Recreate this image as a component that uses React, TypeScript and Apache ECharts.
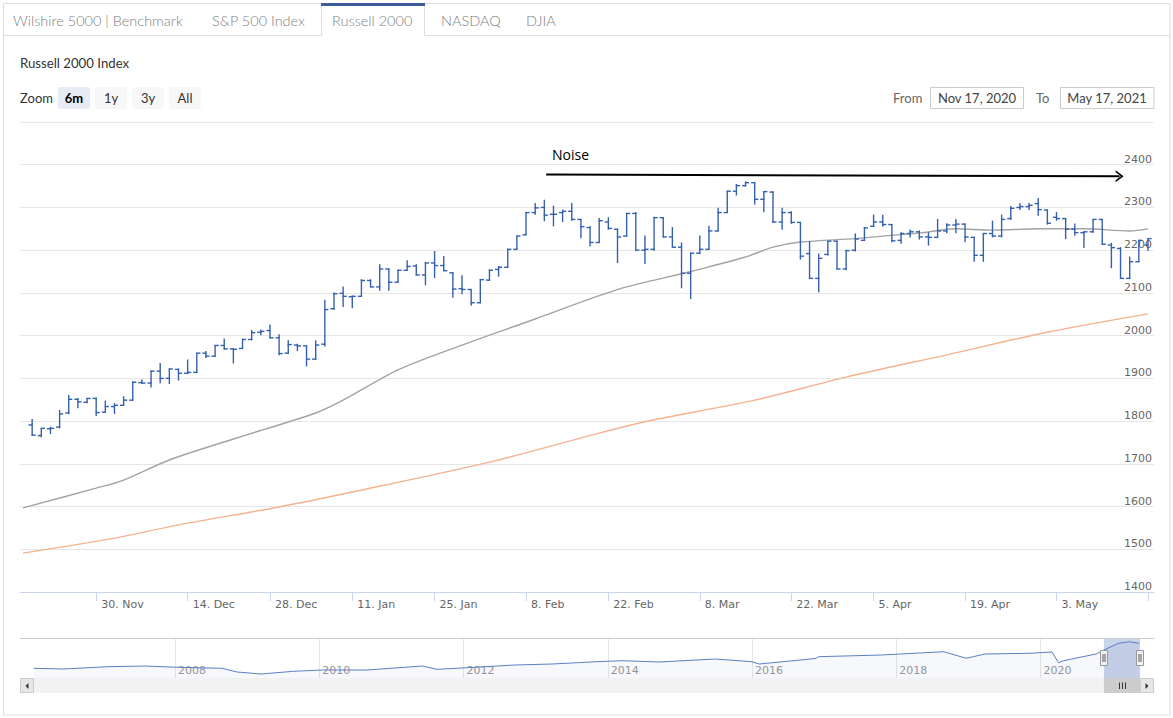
import React, { useEffect, useRef } from "react";
import * as echarts from "echarts";

// ---------- data ----------
const dates: string[] = [
  "2020-11-17","2020-11-18","2020-11-19","2020-11-20","2020-11-23","2020-11-24","2020-11-25","2020-11-27","2020-11-30",
  "2020-12-01","2020-12-02","2020-12-03","2020-12-04","2020-12-07","2020-12-08","2020-12-09","2020-12-10","2020-12-11",
  "2020-12-14","2020-12-15","2020-12-16","2020-12-17","2020-12-18","2020-12-21","2020-12-22","2020-12-23","2020-12-24",
  "2020-12-28","2020-12-29","2020-12-30","2020-12-31",
  "2021-01-04","2021-01-05","2021-01-06","2021-01-07","2021-01-08","2021-01-11","2021-01-12","2021-01-13","2021-01-14",
  "2021-01-15","2021-01-19","2021-01-20","2021-01-21","2021-01-22","2021-01-25","2021-01-26","2021-01-27","2021-01-28","2021-01-29",
  "2021-02-01","2021-02-02","2021-02-03","2021-02-04","2021-02-05","2021-02-08","2021-02-09","2021-02-10","2021-02-11",
  "2021-02-12","2021-02-16","2021-02-17","2021-02-18","2021-02-19","2021-02-22","2021-02-23","2021-02-24","2021-02-25","2021-02-26",
  "2021-03-01","2021-03-02","2021-03-03","2021-03-04","2021-03-05","2021-03-08","2021-03-09","2021-03-10","2021-03-11","2021-03-12",
  "2021-03-15","2021-03-16","2021-03-17","2021-03-18","2021-03-19","2021-03-22","2021-03-23","2021-03-24","2021-03-25","2021-03-26",
  "2021-03-29","2021-03-30","2021-03-31",
  "2021-04-01","2021-04-05","2021-04-06","2021-04-07","2021-04-08","2021-04-09","2021-04-12","2021-04-13","2021-04-14","2021-04-15",
  "2021-04-16","2021-04-19","2021-04-20","2021-04-21","2021-04-22","2021-04-23","2021-04-26","2021-04-27","2021-04-28","2021-04-29","2021-04-30",
  "2021-05-03","2021-05-04","2021-05-05","2021-05-06","2021-05-07","2021-05-10","2021-05-11","2021-05-12","2021-05-13","2021-05-14","2021-05-17",
];

const opens: (number | null)[] = [null,
  1791,1766,1782,1786,1819,1851,1844,1853,1821,1834,1837,1849,1890,1889,1917,1900,1921,1912,1914,1959,
  1952,1977,1969,1970,1991,2008,2012,1995,1959,1978,1976,1945,1980,2063,2099,2091,2092,2129,2114,2156,
  2125,2153,2163,2142,2170,2164,2147,2110,2108,2077,2130,2155,2160,2202,2236,2288,2300,2284,2288,2291,
  2272,2253,2218,2266,2249,2233,2286,2200,2202,2276,2231,2207,2146,2193,2202,2245,2288,2338,2351,2358,
  2319,2336,2266,2288,2265,2192,2134,2190,2221,2156,2200,2223,2256,2266,2260,2223,2239,2243,2231,2230,
  2245,2259,2261,2230,2188,2239,2233,2274,2300,2302,2309,2294,2277,2274,2249,2241,2243,2272,2212,2204,
  2134,2173,2212];
const highs: (number | null)[] = [null,
  1804,1783,1786,1825,1860,1853,1853,1854,1847,1841,1857,1892,1896,1917,1935,1922,1922,1943,1959,1963,
  1977,1992,1970,1992,2012,2013,2025,2002,1988,1980,1976,1988,2083,2100,2114,2093,2131,2131,2166,2156,
  2153,2175,2166,2171,2197,2185,2147,2140,2108,2131,2154,2162,2202,2233,2288,2309,2317,2303,2294,2309,
  2272,2255,2274,2276,2249,2286,2288,2233,2277,2276,2253,2217,2193,2233,2256,2298,2338,2354,2360,2358,
  2337,2337,2298,2290,2265,2220,2191,2221,2221,2200,2238,2253,2282,2282,2260,2241,2247,2245,2241,2272,
  2262,2272,2261,2230,2239,2268,2282,2302,2309,2309,2321,2294,2288,2274,2261,2243,2272,2272,2216,2206,
  2184,2223,2227];
const lows: (number | null)[] = [null,
  1767,1763,1771,1784,1817,1831,1843,1813,1820,1818,1837,1849,1888,1880,1890,1888,1896,1911,1914,1949,
  1951,1969,1936,1970,1990,2002,1995,1955,1958,1965,1929,1945,1976,2062,2068,2065,2092,2114,2106,2106,
  2125,2153,2142,2119,2136,2152,2090,2098,2071,2077,2129,2139,2160,2202,2236,2284,2269,2257,2267,2270,
  2229,2210,2218,2249,2171,2233,2200,2169,2200,2231,2207,2112,2087,2193,2202,2245,2288,2329,2350,2308,
  2290,2265,2249,2263,2179,2134,2103,2189,2156,2154,2198,2223,2256,2256,2220,2216,2231,2226,2212,2230,
  2241,2241,2220,2174,2174,2231,2231,2272,2295,2295,2282,2261,2270,2227,2235,2206,2242,2214,2159,2134,
  2134,2173,2200];
const closes: (number | null)[] = [null,
  1767,1783,1783,1817,1851,1845,1853,1820,1834,1837,1849,1891,1889,1917,1900,1922,1912,1914,1959,1952,
  1977,1969,1968,1991,2007,2010,1995,1958,1979,1976,1945,1978,2061,2098,2092,2092,2129,2114,2156,2125,
  2153,2162,2142,2170,2164,2152,2109,2108,2077,2131,2153,2160,2202,2233,2288,2299,2282,2284,2291,2272,
  2255,2218,2269,2251,2231,2286,2200,2202,2276,2231,2207,2146,2193,2202,2245,2288,2338,2351,2358,2319,
  2337,2266,2288,2265,2186,2134,2181,2221,2156,2199,2226,2252,2266,2260,2222,2239,2243,2231,2230,2245,
  2259,2261,2231,2188,2239,2233,2272,2298,2302,2305,2295,2263,2274,2249,2241,2243,2272,2214,2206,2134,
  2173,2223,2227];

const sma50Dates = ["2020-11-17","2020-11-30","2020-12-03","2020-12-10","2020-12-21","2021-01-05","2021-01-08","2021-01-19","2021-01-28",
  "2021-02-09","2021-02-18","2021-02-24","2021-03-05","2021-03-09","2021-03-15","2021-03-18","2021-03-23","2021-03-31","2021-04-06",
  "2021-04-12","2021-04-16","2021-04-22","2021-04-29","2021-05-06","2021-05-13","2021-05-17"];
const sma50Values = [1597,1643,1662,1709,1758,1819,1849,1920,1978,
  2039,2086,2114,2150,2161,2184,2207,2219,2227,2233,
  2240,2250,2247,2250,2250,2245,2250];

const sma200Dates = ["2020-11-17","2020-12-02","2020-12-11","2020-12-29","2021-01-11","2021-02-02","2021-02-19","2021-03-01",
  "2021-03-16","2021-03-30","2021-04-15","2021-04-30","2021-05-17"];
const sma200Values = [1491,1526,1557,1599,1634,1704,1772,1803,1849,1903,1955,2008,2051];

const tickDates = ["2020-11-30","2020-12-14","2020-12-28","2021-01-11","2021-01-25","2021-02-08","2021-02-22",
  "2021-03-08","2021-03-22","2021-04-05","2021-04-19","2021-05-03","2021-05-17"];
const tickLabels = ["30. Nov","14. Dec","28. Dec","11. Jan","25. Jan","8. Feb","22. Feb","8. Mar","22. Mar","5. Apr","19. Apr","3. May"];

// navigator (full history)
const navYears = [2006.04,2006.45,2007.07,2007.58,2008.04,2008.65,2008.86,2009.19,2009.64,2010.04,2010.66,2011.43,2011.63,
  2012.05,2012.71,2013.23,2013.84,2014.2,2014.71,2015.49,2016.0,2016.1,2016.77,2016.89,2016.92,2017.79,2018.66,2018.97,
  2019.23,2019.84,2020.16,2020.25,2020.32,2020.77,2020.88,2021.08,2021.23,2021.37];
const navValues = [758,718,850,890,815,758,545,430,585,660,660,890,700,
  792,948,1005,1137,1195,1120,1292,1137,1005,1275,1333,1425,1522,1712,1333,
  1580,1620,1695,1080,1195,1580,1810,2195,2287,2195];
const navYearTicks = [2008, 2010, 2012, 2014, 2016, 2018, 2020];
const navRange = [2020.88, 2021.38];

const tabs = ["Wilshire 5000 | Benchmark", "S&P 500 Index", "Russell 2000", "NASDAQ", "DJIA"];
const zoomButtons = ["6m", "1y", "3y", "All"];
const fromText = "Nov 17, 2020";
const toText = "May 17, 2021";

// annotation: arrow across the noisy range [index, value]
const arrowStart = [57.2, 2377];
const arrowEnd = [119.9, 2373];

// ---------- option ----------
const idx = (d: string) => dates.indexOf(d);
const tickIdx = tickDates.map(idx);
const labelIdx = tickIdx.slice(0, tickLabels.length);

const ohlcData = dates
  .map((_, i) => [i, opens[i], highs[i], lows[i], closes[i]])
  .filter((r) => r[1] != null);

const BLUE = "#3560b0";
const FONT = "DejaVu Sans";
const UIFONT = "Lato";

function buildOption(): any {
  return {
    animation: false,
    backgroundColor: "#ffffff",
    grid: [
      { left: 20, right: 19, top: 122, height: 470 },
      { left: 33, right: 33, top: 638, height: 40 },
    ],
    xAxis: [
      {
        type: "value",
        gridIndex: 0,
        min: -0.33,
        max: 123.66,
        axisLine: { show: true, lineStyle: { color: "#ccd6eb", width: 1 } },
        axisTick: { show: true, customValues: tickIdx, length: 9, lineStyle: { color: "#ccd6eb" } },
        axisLabel: {
          show: true,
          customValues: labelIdx,
          formatter: (v: number) => {
            const k = labelIdx.indexOf(Math.round(v));
            return k >= 0 ? tickLabels[k] : "";
          },
          align: "left",
          padding: [0, 0, 0, 5],
          margin: 7,
          color: "#666666",
          fontSize: 11,
          fontFamily: FONT,
        },
        splitLine: { show: false },
      },
      {
        type: "value",
        gridIndex: 1,
        min: 2006.03,
        max: navRange[1],
        axisLine: { show: false },
        axisTick: { show: true, inside: true, length: 40, customValues: navYearTicks, lineStyle: { color: "#e6e6e6" } },
        axisLabel: {
          show: true,
          inside: true,
          customValues: navYearTicks,
          formatter: (v: number) => String(Math.round(v)),
          align: "left",
          padding: [0, 0, 0, 3],
          margin: 2,
          color: "#999999",
          fontSize: 11,
          fontFamily: FONT,
        },
        splitLine: { show: false },
      },
    ],
    yAxis: [
      {
        type: "value",
        gridIndex: 0,
        position: "right",
        min: 1400,
        max: 2500,
        interval: 100,
        axisLine: { show: false },
        axisTick: { show: false },
        axisLabel: {
          inside: true,
          verticalAlign: "bottom",
          margin: 2,
          color: "#666666",
          fontSize: 11,
          fontFamily: FONT,
          formatter: (v: number) => (v >= 2500 ? "" : String(v)),
        },
        splitLine: { show: true, lineStyle: { color: "#e6e6e6", width: 1 } },
      },
      {
        type: "value",
        gridIndex: 1,
        min: 200,
        max: 2500,
        show: false,
        splitLine: { show: false },
      },
    ],
    series: [
      {
        name: "200-day",
        type: "line",
        xAxisIndex: 0,
        yAxisIndex: 0,
        data: sma200Dates.map((d, k) => [idx(d), sma200Values[k]]),
        smooth: 0.3,
        showSymbol: false,
        silent: true,
        lineStyle: { color: "#f4b28f", width: 1.4 },
        z: 2,
      },
      {
        name: "50-day",
        type: "line",
        xAxisIndex: 0,
        yAxisIndex: 0,
        data: sma50Dates.map((d, k) => [idx(d), sma50Values[k]]),
        smooth: 0.3,
        showSymbol: false,
        silent: true,
        lineStyle: { color: "#a3a3a3", width: 1.4 },
        z: 2,
        markLine: {
          silent: true,
          symbol: ["none", "path://M0,10 L5,0 L10,10 L8.4,10 L5,3.4 L1.6,10 Z"],
          symbolSize: [12, 8],
          lineStyle: { color: "#000000", width: 2, type: "solid" },
          label: { show: false },
          data: [[{ coord: arrowStart }, { coord: arrowEnd }]],
        },
      },
      {
        name: "Russell 2000",
        type: "custom",
        xAxisIndex: 0,
        yAxisIndex: 0,
        clip: true,
        z: 3,
        data: ohlcData,
        encode: { x: 0, y: [1, 2, 3, 4] },
        renderItem: (params: any, api: any) => {
          const x = api.value(0);
          const pH = api.coord([x, api.value(2)]);
          const pL = api.coord([x, api.value(3)]);
          const pO = api.coord([x, api.value(1)]);
          const pC = api.coord([x, api.value(4)]);
          const w = 3.6;
          const style = { stroke: BLUE, lineWidth: 1.4, fill: null };
          return {
            type: "group",
            children: [
              { type: "line", shape: { x1: pH[0], y1: pH[1] - 0.5, x2: pL[0], y2: pL[1] + 0.5 }, style },
              { type: "line", shape: { x1: pO[0] - w, y1: pO[1], x2: pO[0] + 0.6, y2: pO[1] }, style },
              { type: "line", shape: { x1: pC[0] - 0.6, y1: pC[1], x2: pC[0] + w, y2: pC[1] }, style },
            ],
          };
        },
      },
      {
        name: "Navigator",
        type: "line",
        xAxisIndex: 1,
        yAxisIndex: 1,
        data: navYears.map((y, k) => [y, navValues[k]]),
        showSymbol: false,
        silent: true,
        lineStyle: { color: "#5b7fc4", width: 1 },
        areaStyle: { color: "rgba(51,92,173,0.06)" },
        z: 2,
        markArea: {
          silent: true,
          itemStyle: { color: "rgba(102,133,194,0.35)" },
          data: [[{ xAxis: navRange[0] }, { xAxis: navRange[1] }]],
        },
      },
    ],
  };
}

function text(x: number, y: number, t: string, opts: any = {}) {
  return {
    type: "text",
    x,
    y,
    silent: true,
    z: opts.z ?? 5,
    style: {
      text: t,
      fill: opts.fill ?? "#333333",
      fontSize: opts.fontSize ?? 13,
      fontFamily: opts.fontFamily ?? UIFONT,
      fontWeight: opts.fontWeight ?? "normal",
      textAlign: opts.align ?? "left",
      textVerticalAlign: "middle",
    },
  };
}

function buildGraphic(a: number, b: number): any[] {
  const g: any[] = [];
  // panel border
  g.push({ type: "rect", silent: true, z: 0, shape: { x: 3.5, y: 3.5, width: 1166.5, height: 711.5 }, style: { fill: "none", stroke: "#dddddd", lineWidth: 1 } });
  // tab row bottom line (except active tab)
  g.push({ type: "line", silent: true, z: 1, shape: { x1: 3, y1: 35.5, x2: 321, y2: 35.5 }, style: { stroke: "#dddddd", lineWidth: 1 } });
  g.push({ type: "line", silent: true, z: 1, shape: { x1: 425, y1: 35.5, x2: 1170, y2: 35.5 }, style: { stroke: "#dddddd", lineWidth: 1 } });
  // active tab
  g.push({ type: "line", silent: true, z: 1, shape: { x1: 321.5, y1: 4, x2: 321.5, y2: 36 }, style: { stroke: "#dddddd", lineWidth: 1 } });
  g.push({ type: "line", silent: true, z: 1, shape: { x1: 424.5, y1: 4, x2: 424.5, y2: 36 }, style: { stroke: "#dddddd", lineWidth: 1 } });
  g.push({ type: "rect", silent: true, z: 2, shape: { x: 321, y: 3, width: 104, height: 3 }, style: { fill: "#3d5a9f" } });
  const tabX = [13, 212, 332, 441, 526];
  tabs.forEach((t, k) => g.push(text(tabX[k], 20, t, { fill: "#808080", fontSize: 14.5, fontWeight: 300, fontFamily: UIFONT })));

  // title
  g.push(text(20, 63, "Russell 2000 Index", { fill: "#333333", fontSize: 13.2 }));
  // range selector
  g.push(text(20, 98, "Zoom", { fill: "#333333", fontSize: 13 }));
  const bx = [58, 95, 132, 169];
  zoomButtons.forEach((t, k) => {
    g.push({ type: "rect", silent: true, z: 4, shape: { x: bx[k], y: 87, width: 32, height: 22, r: 2 }, style: { fill: k === 0 ? "#e6ebf5" : "#f7f7f7" } });
    g.push(text(bx[k] + 16, 98, t, { align: "center", fill: k === 0 ? "#000000" : "#333333", fontWeight: k === 0 ? "bold" : "normal", fontSize: 13 }));
  });
  g.push(text(893, 98, "From", { fill: "#666666", fontSize: 13 }));
  g.push({ type: "rect", silent: true, z: 4, shape: { x: 930.5, y: 87.5, width: 93, height: 21 }, style: { fill: "#ffffff", stroke: "#cccccc", lineWidth: 1 } });
  g.push(text(977, 98, fromText, { align: "center", fill: "#444444", fontSize: 13 }));
  g.push(text(1036, 98, "To", { fill: "#666666", fontSize: 13 }));
  g.push({ type: "rect", silent: true, z: 4, shape: { x: 1060.5, y: 87.5, width: 93.5, height: 21 }, style: { fill: "#ffffff", stroke: "#cccccc", lineWidth: 1 } });
  g.push(text(1107, 98, toText, { align: "center", fill: "#444444", fontSize: 13 }));

  // annotation label
  g.push(text(552, 154, "Noise", { fill: "#000000", fontSize: 14, fontFamily: "Open Sans" }));

  // navigator top outline
  g.push({ type: "line", silent: true, z: 6, shape: { x1: 20, y1: 638.5, x2: 1154, y2: 638.5 }, style: { stroke: "#cccccc", lineWidth: 1 } });

  // scrollbar
  g.push({ type: "rect", silent: true, z: 4, shape: { x: 20, y: 678, width: 1134, height: 15 }, style: { fill: "#f2f2f2" } });
  g.push({ type: "rect", silent: true, z: 5, shape: { x: 20.5, y: 678.5, width: 13, height: 14 }, style: { fill: "#e6e6e6", stroke: "#cccccc", lineWidth: 1 } });
  g.push({ type: "polygon", silent: true, z: 6, shape: { points: [[28.5, 683], [28.5, 689], [25.5, 686]] }, style: { fill: "#333333" } });
  g.push({ type: "rect", silent: true, z: 5, shape: { x: 1140.5, y: 678.5, width: 13, height: 14 }, style: { fill: "#e6e6e6", stroke: "#cccccc", lineWidth: 1 } });
  g.push({ type: "polygon", silent: true, z: 6, shape: { points: [[1145.5, 683], [1145.5, 689], [1148.5, 686]] }, style: { fill: "#333333" } });
  g.push({ type: "rect", silent: true, z: 5, shape: { x: a, y: 678, width: b - a, height: 15 }, style: { fill: "#cccccc" } });
  const mid = Math.round((a + b) / 2) + 0.5;
  [-3, 0, 3].forEach((d) =>
    g.push({ type: "line", silent: true, z: 6, shape: { x1: mid + d, y1: 682.5, x2: mid + d, y2: 689 }, style: { stroke: "#333333", lineWidth: 1 } })
  );

  // navigator handles
  [a, b].forEach((px) => {
    const x0 = Math.round(px) - 3.5;
    g.push({ type: "rect", silent: true, z: 10, shape: { x: x0, y: 650.5, width: 7, height: 15 }, style: { fill: "#f2f2f2", stroke: "#999999", lineWidth: 1 } });
    g.push({ type: "line", silent: true, z: 11, shape: { x1: x0 + 2.5, y1: 654, x2: x0 + 2.5, y2: 662 }, style: { stroke: "#333333", lineWidth: 0.8 } });
    g.push({ type: "line", silent: true, z: 11, shape: { x1: x0 + 4.5, y1: 654, x2: x0 + 4.5, y2: 662 }, style: { stroke: "#333333", lineWidth: 0.8 } });
  });
  return g;
}

export default function App() {
  const ref = useRef<HTMLDivElement>(null);
  useEffect(() => {
    document.body.style.margin = "0";
    const chart = echarts.init(ref.current as HTMLDivElement, null, { renderer: "svg" });
    chart.setOption(buildOption());
    let a = chart.convertToPixel({ xAxisIndex: 1 } as any, navRange[0]) as any;
    let b = chart.convertToPixel({ xAxisIndex: 1 } as any, navRange[1]) as any;
    if (typeof a !== "number" || isNaN(a)) a = 1103;
    if (typeof b !== "number" || isNaN(b)) b = 1140;
    chart.setOption({ graphic: buildGraphic(a, b) });
    return () => chart.dispose();
  }, []);
  return <div ref={ref} style={{ width: 1173, height: 718 }} />;
}
